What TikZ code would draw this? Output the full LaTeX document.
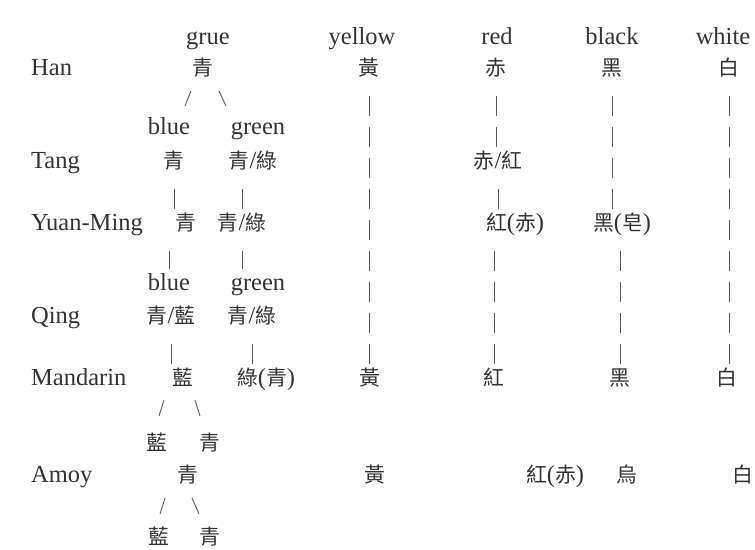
\documentclass[tikz,border=0pt]{standalone}
\usepackage{fontspec}
\setmainfont{Liberation Serif}
\newfontfamily\cjkfont{Noto Sans CJK TC}[Scale=0.85]
\newcommand{\zh}[1]{{\cjkfont #1}}
\colorlet{ink}{black!80}
\colorlet{stroke}{black!65}

\begin{document}
\begin{tikzpicture}[x=1pt, y=-1pt,
    every node/.style={inner sep=0pt, text=ink, font=\fontsize{24.5}{28}\selectfont},
    rowlabel/.style={anchor=base west},
    cell/.style={anchor=base, text height=18pt, text depth=5pt},
    bars/.style={draw=stroke, line width=0.8pt, dash pattern=on 20pt off 11pt,
                 shorten <=27pt, shorten >=15pt},
    branch/.style={draw=stroke, line width=0.9pt}]
        \useasboundingbox (0,0) rectangle (755,549);

        % Column headings
        \node[cell] (grue) at (208,44) {grue};
        \node[cell] (yellow) at (362,44) {yellow};
        \node[cell] (red) at (497,44) {red};
        \node[cell] (black) at (612,44) {black};
        \node[cell] (white) at (723,44) {white};

        % Han
        \node[rowlabel] (han) at (31,75) {Han};
        \node[cell] (hanGr) at (203,75) {\zh{青}};
        \node[cell] (hanYe) at (369,75) {\zh{黃}};
        \node[cell] (hanRe) at (496,75) {\zh{赤}};
        \node[cell] (hanBk) at (612,75) {\zh{黑}};
        \node[cell] (hanWh) at (729,75) {\zh{白}};

        % Tang
        \node[cell] (blueA) at (169,134) {blue};
        \node[cell] (greenA) at (258,134) {green};
        \node[rowlabel] (tang) at (31,168) {Tang};
        \node[cell] (tangBl) at (174,168) {\zh{青}};
        \node[cell] (tangGn) at (253,168) {\zh{青}/\zh{綠}};
        \node[cell] (tangRe) at (498,168) {\zh{赤}/\zh{紅}};

        % Yuan-Ming
        \node[rowlabel] (yuan) at (31,230) {Yuan-Ming};
        \node[cell] (yuanBl) at (186,230) {\zh{青}};
        \node[cell] (yuanGn) at (242,230) {\zh{青}/\zh{綠}};
        \node[cell] (yuanRe) at (515,230) {\zh{紅}(\zh{赤})};
        \node[cell] (yuanBk) at (622,230) {\zh{黑}(\zh{皂})};

        % Qing
        \node[cell] (blueB) at (169,290) {blue};
        \node[cell] (greenB) at (258,290) {green};
        \node[rowlabel] (qing) at (31,323) {Qing};
        \node[cell] (qingBl) at (171,323) {\zh{青}/\zh{藍}};
        \node[cell] (qingGn) at (252,323) {\zh{青}/\zh{綠}};

        % Mandarin
        \node[rowlabel] (mand) at (31,385) {Mandarin};
        \node[cell] (mandBl) at (183,385) {\zh{藍}};
        \node[cell] (mandGn) at (266,385) {\zh{綠}(\zh{青})};
        \node[cell] (mandYe) at (370,385) {\zh{黃}};
        \node[cell] (mandRe) at (494,385) {\zh{紅}};
        \node[cell] (mandBk) at (620,385) {\zh{黑}};
        \node[cell] (mandWh) at (727,385) {\zh{白}};
        \node[cell] (splitBl) at (157,450) {\zh{藍}};
        \node[cell] (splitGn) at (210,450) {\zh{青}};

        % Amoy
        \node[rowlabel] (amoy) at (31,482) {Amoy};
        \node[cell] (amoyBl) at (188,482) {\zh{青}};
        \node[cell] (amoyYe) at (375,482) {\zh{黃}};
        \node[cell] (amoyRe) at (555,482) {\zh{紅}(\zh{赤})};
        \node[cell] (amoyBk) at (627,482) {\zh{烏}};
        \node[cell] (amoyWh) at (743,482) {\zh{白}};
        \node[cell] (lastBl) at (159,544) {\zh{藍}};
        \node[cell] (lastGn) at (210,544) {\zh{青}};

        % Ends of the short split strokes
        \coordinate (hanL1) at (191,91);  \coordinate (hanL2) at (185,106);
        \coordinate (hanR1) at (219,91);  \coordinate (hanR2) at (226,106);
        \coordinate (mandL1) at (164,400); \coordinate (mandL2) at (159,416);
        \coordinate (mandR1) at (195,400); \coordinate (mandR2) at (200,416);
        \coordinate (amoyL1) at (165,498); \coordinate (amoyL2) at (160,514);
        \coordinate (amoyR1) at (192,498); \coordinate (amoyR2) at (199,514);

        % Draw the splits
        \draw[branch] (hanL1) -- (hanL2);
        \draw[branch] (hanR1) -- (hanR2);
        \draw[branch] (mandL1) -- (mandL2);
        \draw[branch] (mandR1) -- (mandR2);
        \draw[branch] (amoyL1) -- (amoyL2);
        \draw[branch] (amoyR1) -- (amoyR2);

        % Draw the blue and green lines
        \draw[bars] (tangBl.center) -- (tangBl.center |- yuanBl.center);
        \draw[bars] (blueB.center |- yuanBl.center) -- (blueB.center);
        \draw[bars] (qingBl.center) -- (qingBl.center |- mandBl.center);
        \draw[bars] (yuanGn.center |- tangGn.center) -- (yuanGn.center);
        \draw[bars] (yuanGn.center) -- (yuanGn.center |- greenB.center);
        \draw[bars] (qingGn.center) -- (qingGn.center |- mandGn.center);

        % Draw the other colour lines
        \draw[bars] (hanYe.center) -- (hanYe.center |- mandYe.center);
        \draw[bars] (hanRe.center) -- (hanRe.center |- tangRe.center);
        \draw[bars] (tangRe.center) -- (tangRe.center |- yuanRe.center);
        \draw[bars] (mandRe.center |- yuanRe.center) -- (mandRe.center);
        \draw[bars] (hanBk.center) -- (hanBk.center |- yuanBk.center);
        \draw[bars] (mandBk.center |- yuanBk.center) -- (mandBk.center);
        \draw[bars] (hanWh.center) -- (hanWh.center |- mandWh.center);
      \end{tikzpicture}
\end{document}
